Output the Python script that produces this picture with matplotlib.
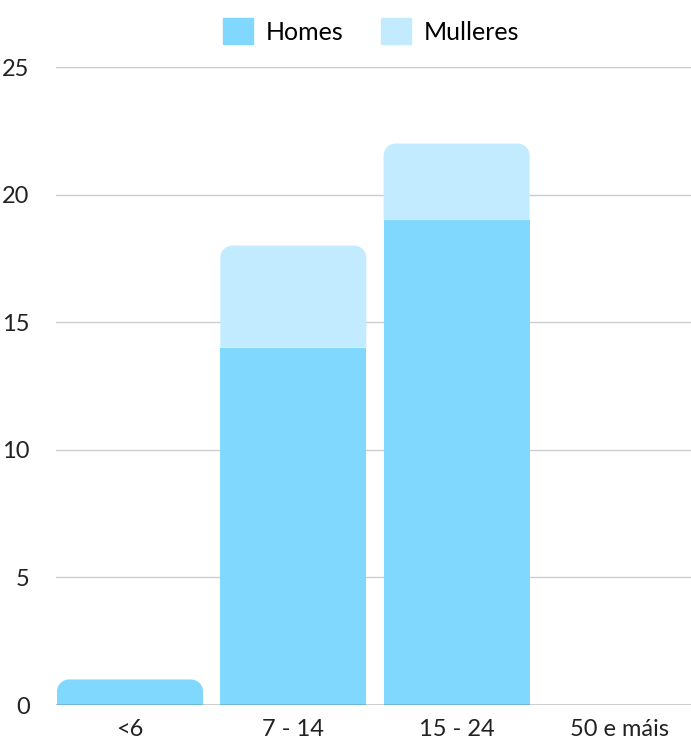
import matplotlib.pyplot as plt
from matplotlib.path import Path
from matplotlib.patches import PathPatch, Patch

# Data
categories = ['<6', '7 - 14', '15 - 24', '50 e máis']
homes = [1, 14, 19, 0]
mulleres = [0, 4, 3, 0]
series_names = ['Homes', 'Mulleres']
y_ticks = [0, 5, 10, 15, 20, 25]

c_homes = '#80d8ff'
c_mulleres = '#c2ebff'

plt.rcParams['font.family'] = ['Lato', 'DejaVu Sans']

fig = plt.figure(figsize=(6.91, 7.42), dpi=100)
ax = fig.add_axes([56 / 691, 37 / 742, 635 / 691, 638 / 742])

x = list(range(len(categories)))
bw = 0.894
b1 = ax.bar(x, homes, width=bw, color=c_homes, linewidth=0, zorder=2)
b2 = ax.bar(x, mulleres, width=bw, bottom=homes, color=c_mulleres, linewidth=0, zorder=2)

ax.set_xlim(-0.453, 3.435)
ax.set_ylim(0, 25)


def round_top(rect, r_px=12):
    # replace a rectangle with one whose top corners are rounded
    x0, y0 = rect.get_x(), rect.get_y()
    w, h = rect.get_width(), rect.get_height()
    ppx = ax.transData.transform((1, 0))[0] - ax.transData.transform((0, 0))[0]
    ppy = ax.transData.transform((0, 1))[1] - ax.transData.transform((0, 0))[1]
    rx = min(r_px / ppx, w / 2)
    ry = min(r_px / ppy, h)
    k = 0.5523
    x1, y1 = x0 + w, y0 + h
    verts = [
        (x0, y0), (x0, y1 - ry),
        (x0, y1 - ry + k * ry), (x0 + rx - k * rx, y1), (x0 + rx, y1),
        (x1 - rx, y1),
        (x1 - rx + k * rx, y1), (x1, y1 - ry + k * ry), (x1, y1 - ry),
        (x1, y0), (x0, y0),
    ]
    codes = [Path.MOVETO, Path.LINETO,
             Path.CURVE4, Path.CURVE4, Path.CURVE4,
             Path.LINETO,
             Path.CURVE4, Path.CURVE4, Path.CURVE4,
             Path.LINETO, Path.CLOSEPOLY]
    p = PathPatch(Path(verts, codes), facecolor=rect.get_facecolor(),
                  linewidth=0, zorder=2)
    rect.set_visible(False)
    ax.add_patch(p)


for i in range(len(categories)):
    if mulleres[i] > 0:
        round_top(b2.patches[i])
    elif homes[i] > 0:
        round_top(b1.patches[i])

# grid and axes styling
ax.set_yticks(y_ticks)
ax.yaxis.grid(True, color='#cccccc', linewidth=1, zorder=0)
ax.axhline(0, color='#333333', linewidth=1, zorder=3)
for s in ax.spines.values():
    s.set_visible(False)
ax.set_xticks(x)
ax.set_xticklabels(categories)
ax.tick_params(axis='both', length=0, labelsize=17, colors='#222222')
ax.tick_params(axis='y', pad=19)
ax.tick_params(axis='x', pad=10)

handles = [Patch(color=c_homes), Patch(color=c_mulleres)]
fig.legend(handles, series_names, loc='center', bbox_to_anchor=(0.537, 0.958),
           ncol=2, frameon=False, fontsize=18, handlelength=1.2,
           handleheight=1.2, handletextpad=0.5, columnspacing=1.5)

plt.savefig('out.png')
